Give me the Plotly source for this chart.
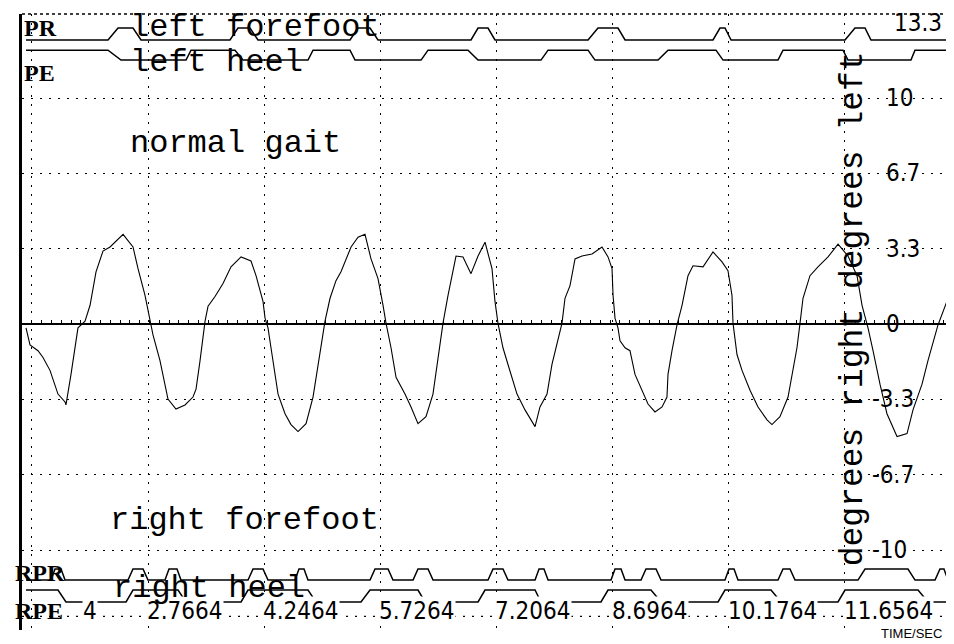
import plotly.graph_objects as go

# gait trace: ankle angle (degrees) against time (seconds)
wave_t = [1.210, 1.261, 1.363, 1.427, 1.516, 1.580, 1.618, 1.708, 1.720, 1.784,
          1.873, 1.963, 2.027, 2.103, 2.192, 2.282, 2.358, 2.448, 2.575, 2.639,
          2.728, 2.792, 2.830, 2.919, 2.983, 3.021, 3.123, 3.238, 3.340, 3.379,
          3.430, 3.494, 3.532, 3.621, 3.723, 3.825, 3.953, 4.080, 4.144, 4.233,
          4.259, 4.297, 4.335, 4.425, 4.514, 4.590, 4.680, 4.782, 4.871, 4.960,
          5.024, 5.088, 5.164, 5.228, 5.356, 5.445, 5.534, 5.611, 5.700, 5.764,
          5.802, 5.866, 5.930, 6.044, 6.121, 6.210, 6.312, 6.401, 6.465, 6.529,
          6.593, 6.657, 6.695, 6.784, 6.886, 6.976, 7.065, 7.154, 7.192, 7.230,
          7.294, 7.358, 7.473, 7.575, 7.703, 7.766, 7.856, 7.919, 7.996, 8.047,
          8.085, 8.149, 8.213, 8.302, 8.430, 8.557, 8.634, 8.685, 8.698, 8.723,
          8.761, 8.787, 8.851, 8.914, 8.978, 9.067, 9.144, 9.233, 9.323, 9.386,
          9.399, 9.450, 9.514, 9.578, 9.654, 9.718, 9.846, 9.973, 10.088, 10.164,
          10.215, 10.228, 10.279, 10.343, 10.445, 10.547, 10.662, 10.725, 10.827, 10.930,
          10.993, 11.044, 11.083, 11.121, 11.210, 11.312, 11.440, 11.568, 11.695, 11.810,
          11.874, 11.950, 12.014, 12.103, 12.192, 12.320, 12.448, 12.524, 12.639, 12.715,
          12.843, 12.971, 13.098]
wave_deg = [-0.17, -0.92, -1.18, -1.48, -2.05, -2.66, -3.10, -3.45, -3.58, -2.23,
            -0.17, 0.13, 0.83, 2.31, 3.23, 3.41, 3.67, 3.97, 3.41, 2.45,
            1.27, 0.13, -0.48, -1.62, -2.79, -3.32, -3.76, -3.58, -3.23, -2.88,
            -1.62, 0.13, 0.79, 1.22, 1.79, 2.53, 2.97, 2.79, 2.14, 1.00,
            0.26, -0.17, -1.05, -3.10, -3.97, -4.45, -4.76, -4.41, -3.23, -1.18,
            0.13, 1.14, 1.92, 2.31, 3.41, 3.84, 3.97, 2.88, 2.01, 0.83,
            0.04, -1.05, -2.36, -3.10, -3.67, -4.41, -4.10, -3.10, -1.48, 0.04,
            1.27, 2.45, 3.01, 2.97, 2.23, 3.01, 3.62, 2.45, 1.00, 0.04,
            -1.05, -1.79, -3.10, -3.80, -4.54, -3.67, -3.10, -1.79, -0.74, 0.04,
            1.14, 1.70, 2.88, 3.01, 3.10, 3.41, 2.97, 2.45, 1.27, 0.26,
            -0.17, -0.74, -1.05, -1.18, -2.23, -2.93, -3.54, -3.89, -3.67, -3.23,
            -2.23, -1.18, -0.04, 0.83, 2.14, 2.58, 2.53, 3.19, 2.75, 2.36,
            1.27, 0.04, -1.35, -2.05, -2.93, -3.67, -4.24, -4.45, -4.10, -3.23,
            -2.05, -1.05, 0.04, 1.14, 2.14, 2.53, 2.97, 3.54, 3.01, 2.14,
            0.83, -0.17, -1.18, -2.66, -3.97, -4.98, -4.85, -3.80, -2.66, -1.62,
            -0.04, 1.14, 2.58]

# footswitch channels: vertex times and on/off state, drawn at two levels each
lpr_t = [1.210, 2.256, 2.384, 2.575, 2.677, 3.812, 3.914, 4.067, 4.169, 5.343,
         5.445, 5.598, 5.700, 6.886, 6.976, 7.103, 7.192, 8.379, 8.506, 8.761,
         8.851, 9.973, 10.062, 10.126, 10.203, 11.657, 11.784, 11.912, 11.988, 13.098]
lpr_on = [0, 0, 1, 1, 0, 0, 1, 1, 0, 0, 1, 1, 0, 0, 1, 1, 0, 0, 1, 1,
          0, 0, 1, 1, 0, 0, 1, 1, 0, 0]
lpe_t = [1.210, 2.256, 2.422, 3.251, 3.315, 3.876, 3.978, 4.807, 4.871, 5.343,
         5.407, 6.249, 6.338, 6.848, 6.976, 7.779, 7.869, 8.379, 8.468, 9.272,
         9.399, 10.011, 10.101, 10.802, 10.866, 11.631, 11.695, 12.498, 12.549, 13.098]
lpe_on = [1, 1, 0, 0, 1, 1, 0, 0, 1, 1, 0, 0, 1, 1, 0, 0, 1, 1, 0, 0,
          1, 1, 0, 0, 1, 1, 0, 0, 1, 1]
rpr_t = [1.210, 1.529, 1.580, 1.657, 1.708, 2.511, 2.575, 2.703, 2.766, 2.983,
         3.034, 3.136, 3.187, 4.042, 4.106, 4.233, 4.297, 4.641, 4.692, 4.756,
         4.807, 5.598, 5.662, 5.828, 5.891, 6.147, 6.210, 6.338, 6.402, 7.103,
         7.167, 7.294, 7.358, 7.703, 7.754, 7.817, 7.869, 8.672, 8.723, 8.800,
         8.851, 9.055, 9.118, 9.246, 9.310, 10.126, 10.177, 10.241, 10.292, 10.802,
         10.866, 10.955, 11.019, 11.822, 11.912, 12.460, 12.550, 12.805, 12.868, 12.919,
         12.970, 13.098]
rpr_on = [0, 0, 1, 1, 0, 0, 1, 1, 0, 0, 1, 1, 0, 0, 1, 1, 0, 0, 1, 1,
          0, 0, 1, 1, 0, 0, 1, 1, 0, 0, 1, 1, 0, 0, 1, 1, 0, 0, 1, 1,
          0, 0, 1, 1, 0, 0, 1, 1, 0, 0, 1, 1, 0, 0, 1, 1, 0, 0, 1, 1,
          0, 0]
rpe_t = [1.210, 1.618, 1.720, 2.486, 2.575, 3.149, 3.251, 3.953, 4.042, 4.807,
         4.909, 5.483, 5.598, 6.210, 6.300, 6.976, 7.065, 7.703, 7.779, 8.544,
         8.634, 9.182, 9.310, 10.037, 10.126, 10.713, 10.840, 11.567, 11.657, 12.588,
         12.715, 13.098]
rpe_on = [1, 1, 0, 0, 1, 1, 0, 0, 1, 1, 0, 0, 1, 1, 0, 0, 1, 1, 0, 0,
          1, 1, 0, 0, 1, 1, 0, 0, 1, 1, 0, 0]

lpr_levels = [12.57, 13.10]
lpe_levels = [11.68, 12.12]
rpr_levels = [-11.33, -10.84]
rpe_levels = [-12.30, -11.77]

time_ticks = [1.2864, 2.7664, 4.2464, 5.7264, 7.2064, 8.6964, 10.1764, 11.6564]
time_labels = ['4', '2.7664', '4.2464', '5.7264', '7.2064', '8.6964', '10.1764', '11.6564']
deg_ticks = [13.333, 10, 6.667, 3.333, 0, -3.333, -6.667, -10]
deg_labels = ['13.3', '10', '6.7', '3.3', '0', '-3.3', '-6.7', '-10']
deg_grid = [-10, -6.667, -3.333, 3.333, 6.667, 10]

mono = 'Liberation Mono, DejaVu Sans Mono, monospace'
narrow = 'Liberation Sans Narrow, DejaVu Sans Condensed, Liberation Sans, sans-serif'

fig = go.Figure()
fig.add_trace(go.Scatter(x=wave_t, y=wave_deg, mode='lines',
                         line=dict(color='black', width=1.1), showlegend=False))
for tt, on, lev in [(lpr_t, lpr_on, lpr_levels), (lpe_t, lpe_on, lpe_levels),
                    (rpr_t, rpr_on, rpr_levels), (rpe_t, rpe_on, rpe_levels)]:
    fig.add_trace(go.Scatter(x=tt, y=[lev[s] for s in on], mode='lines',
                             line=dict(color='black', width=1.5), showlegend=False))
# empty trace so the zero-line axis gets drawn
fig.add_trace(go.Scatter(x=[], y=[], xaxis='x2', showlegend=False))

xr = [1.159, 13.098]
yr = [-13.54, 13.72]

ann = []
for v, s in zip(time_ticks, time_labels):
    ann.append(dict(x=v, y=0.031, xref='x', yref='paper', text=s, showarrow=False,
                    xanchor='left', yanchor='middle', xshift=50 if s == '4' else -2,
                    bgcolor='white', borderpad=0,
                    font=dict(family=narrow, size=24, color='black')))
for v, s in zip(deg_ticks, deg_labels):
    xp = 0.93 if s == '13.3' else (0.906 if s.startswith('-') else 0.921)
    ann.append(dict(x=xp, y=v, xref='paper', yref='y', text=s, showarrow=False,
                    xanchor='left', yanchor='middle',
                    font=dict(family=narrow, size=24, color='black')))

texts = [('left forefoot', 0.113, 0.978), ('left heel', 0.113, 0.922),
         ('normal gait', 0.113, 0.789), ('right forefoot', 0.092, 0.177),
         ('right heel', 0.095, 0.068)]
for s, xp, yp in texts:
    ann.append(dict(x=xp, y=yp, xref='paper', yref='paper', text=s, showarrow=False,
                    xanchor='left', yanchor='middle',
                    font=dict(family=mono, size=32, color='black')))
ann.append(dict(x=0.888, y=0.521, xref='paper', yref='paper', text='degrees right degrees left',
                showarrow=False, textangle=-90, xanchor='center', yanchor='middle',
                font=dict(family=mono, size=33, color='black')))
for s, xp, yp in [('PR', 0.0, 0.978), ('PE', 0.0, 0.905), ('RPR', -0.01, 0.092), ('RPE', -0.01, 0.031)]:
    ann.append(dict(x=xp, y=yp, xref='paper', yref='paper', text='<b>' + s + '</b>', showarrow=False,
                    xanchor='left', yanchor='middle',
                    font=dict(family='Liberation Serif, serif', size=24, color='black')))
ann.append(dict(x=0.985, y=-0.006, xref='paper', yref='paper', text='TIME/SEC', showarrow=False,
                xanchor='right', yanchor='middle',
                font=dict(family='Liberation Sans, sans-serif', size=13, color='black')))

fig.update_layout(
    width=954, height=644,
    margin=dict(l=14, r=4, t=6, b=22),
    paper_bgcolor='white', plot_bgcolor='white',
    xaxis=dict(range=xr, tickvals=time_ticks, showticklabels=False, ticks='',
               showgrid=True, gridcolor='black', gridwidth=1.3, griddash='2px,7px',
               zeroline=False, showline=False),
    xaxis2=dict(range=xr, overlaying='x', anchor='free', position=0.4967,
                side='bottom', showline=True, linecolor='black', linewidth=2,
                ticks='inside', ticklen=3, tickwidth=1, tickcolor='black',
                tick0=1.2864, dtick=0.125, showticklabels=False, showgrid=False,
                zeroline=False),
    yaxis=dict(range=yr, tickvals=deg_grid, showticklabels=False, ticks='',
               showgrid=True, gridcolor='black', gridwidth=1.3, griddash='2px,7px',
               zeroline=False, showline=True, linecolor='black', linewidth=3),
    shapes=[
        dict(type='line', xref='paper', yref='paper', x0=0, x1=1, y0=1, y1=1,
             line=dict(color='black', width=1.5, dash='dot')),
        dict(type='line', xref='paper', yref='paper', x0=0, x1=1, y0=0.022, y1=0.022,
             line=dict(color='black', width=1.3, dash='2px,7px')),
        dict(type='line', xref='paper', yref='paper', x0=1, x1=1, y0=-0.01, y1=0.368,
             line=dict(color='black', width=2.5)),
    ],
    annotations=ann,
)

fig.write_html('out.html')
